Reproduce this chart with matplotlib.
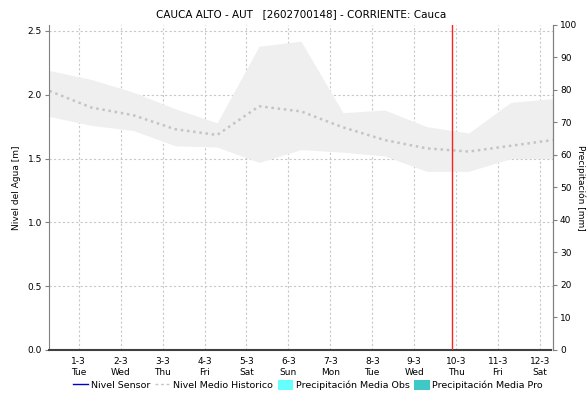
import matplotlib
matplotlib.use("Agg")
import matplotlib.pyplot as plt
from matplotlib.lines import Line2D
from matplotlib.patches import Patch

# Etiquetas de los dias (eje x)
dias = ["1-3", "2-3", "3-3", "4-3", "5-3", "6-3", "7-3", "8-3", "9-3", "10-3", "11-3", "12-3"]
dias_semana = ["Tue", "Wed", "Thu", "Fri", "Sat", "Sun", "Mon", "Tue", "Wed", "Thu", "Fri", "Sat"]

# Posicion de los datos historicos (en dias desde 1-3)
pos_hist = [-0.7, 0.3, 1.3, 2.3, 3.3, 4.3, 5.3, 6.3, 7.3, 8.3, 9.3, 10.3, 11.3]
# Nivel historico: maximo, minimo y medio [m]
nivel_max = [2.19, 2.12, 2.02, 1.89, 1.78, 2.38, 2.42, 1.86, 1.88, 1.75, 1.70, 1.94, 1.97]
nivel_min = [1.83, 1.76, 1.72, 1.60, 1.59, 1.47, 1.57, 1.55, 1.52, 1.40, 1.40, 1.50, 1.50]
nivel_medio = [2.03, 1.90, 1.84, 1.73, 1.685, 1.91, 1.87, 1.745, 1.645, 1.58, 1.555, 1.60, 1.645]

# Nivel del sensor (sin datos) y fecha actual
nivel_sensor = []
pos_sensor = []
fecha_actual = 8.9

fig = plt.figure(figsize=(5.87, 4.04), dpi=100)
ax = fig.add_axes([0.0835, 0.1337, 0.8585, 0.8045])

# Banda historica
ax.fill_between(pos_hist, nivel_min, nivel_max, color="#efefef", linewidth=0, zorder=1)
ax.plot(pos_hist, nivel_medio, color="#c4c4c4", linestyle=(0, (1, 1.5)), linewidth=1.8, zorder=2)
ax.plot(pos_sensor, nivel_sensor, color="#0000cc", linewidth=1, zorder=3)

# Linea roja de fecha actual
ax.axvline(fecha_actual, color="#ff2020", linewidth=1, zorder=4)

ax.set_xlim(-0.71, 11.31)
ax.set_ylim(0, 2.547)
ax.set_xticks(range(len(dias)))
ax.set_xticklabels([d + "\n" + s for d, s in zip(dias, dias_semana)], fontsize=6.5, linespacing=1.3)
ax.set_yticks([0.0, 0.5, 1.0, 1.5, 2.0, 2.5])
ax.set_yticklabels(["0.0", "0.5", "1.0", "1.5", "2.0", "2.5"], fontsize=6.5)
ax.tick_params(axis="x", length=0, pad=5)
ax.tick_params(axis="y", length=3, color="#808080", pad=2)
ax.grid(True, color="#c8c8c8", linestyle=(0, (2, 2)), linewidth=0.8)
ax.set_axisbelow(True)
ax.set_ylabel("Nivel del Agua [m]", fontsize=6.5, labelpad=5)

ax.spines["top"].set_visible(False)
ax.spines["left"].set_color("#808080")
ax.spines["right"].set_color("#808080")
ax.spines["bottom"].set_color("#404040")
ax.spines["bottom"].set_linestyle((0, (1, 1)))
ax.spines["bottom"].set_linewidth(1.5)

# Eje de precipitacion
ax2 = ax.twinx()
ax2.set_ylim(0, 100)
ax2.set_yticks(range(0, 101, 10))
ax2.set_yticklabels([str(v) for v in range(0, 101, 10)], fontsize=6.5)
ax2.tick_params(axis="y", length=3, color="#808080", pad=2)
ax2.set_ylabel("Precipitación [mm]", fontsize=6.5, rotation=270, labelpad=6)
for lado in ["top", "left", "bottom"]:
    ax2.spines[lado].set_visible(False)
ax2.spines["right"].set_color("#808080")

ax.set_title("CAUCA ALTO - AUT   [2602700148] - CORRIENTE: Cauca", fontsize=7.5, pad=6)

# Leyenda
elementos = [
    Line2D([0], [0], color="#0000cc", linewidth=1),
    Line2D([0], [0], color="#c4c4c4", linestyle=(0, (2, 2)), linewidth=1),
    Patch(facecolor="#66ffff", edgecolor="none"),
    Patch(facecolor="#40c8c8", edgecolor="none"),
]
fig.legend(elementos, ["Nivel Sensor", "Nivel Medio Historico", "Precipitación Media Obs", "Precipitación Media Pro"],
           loc="center", bbox_to_anchor=(0.525, 0.047), ncol=4, frameon=False, fontsize=6.8,
           handlelength=1.6, handletextpad=0.3, columnspacing=0.5, handleheight=1.3)

fig.savefig("out.png", dpi=100)
